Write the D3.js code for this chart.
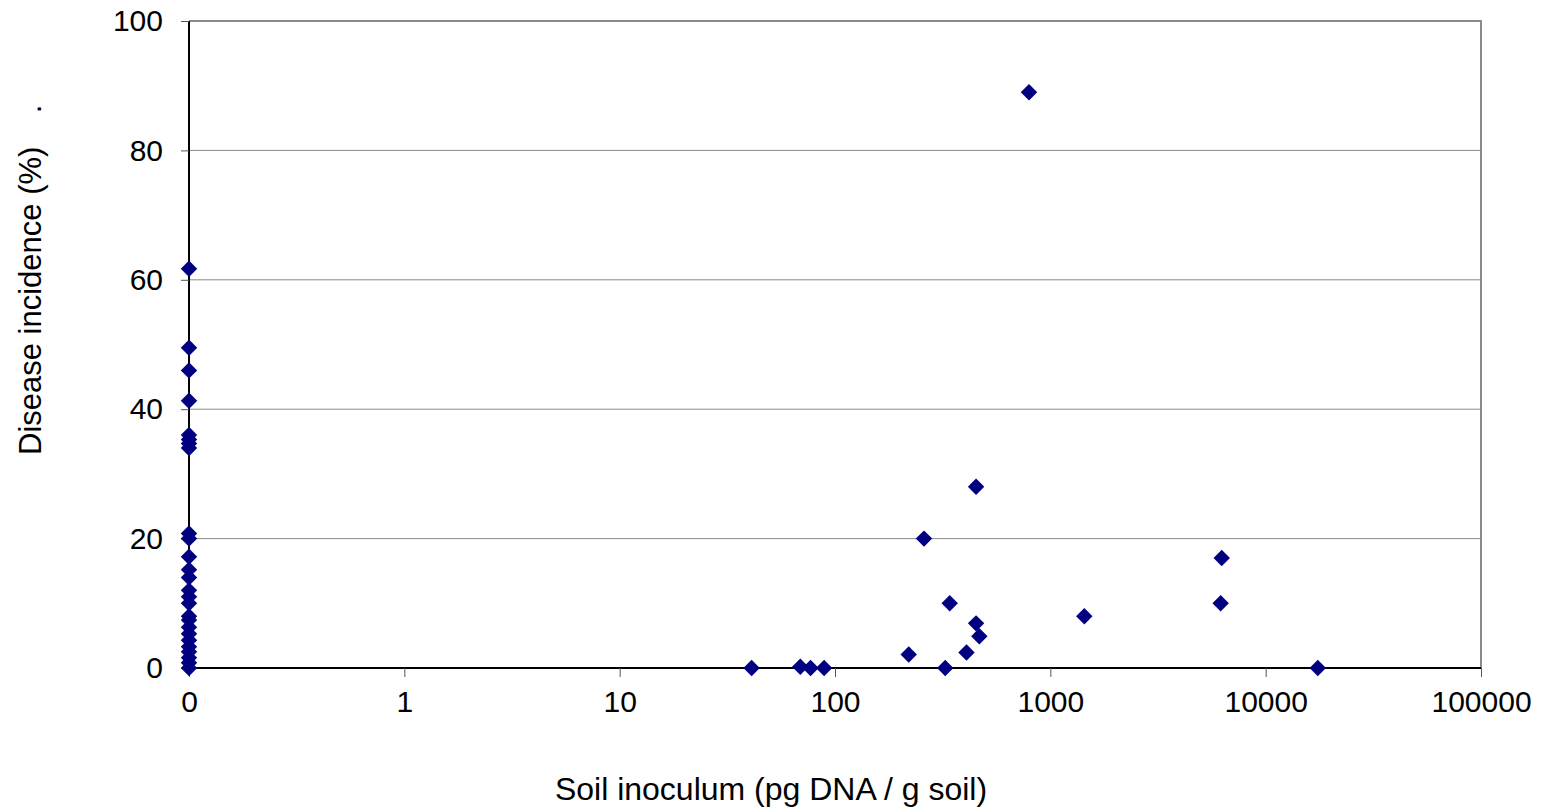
<!DOCTYPE html>
<html>
<head>
  <meta charset="utf-8">
  <title>Disease incidence vs soil inoculum</title>
  <style>
    body { margin: 0; background: #fff; }
    text { font-family: "Liberation Sans", Arial, sans-serif; fill: #000; }
  </style>
</head>
<body>
  <script src="https://d3js.org/d3.v7.min.js"></script>
  <script type="text/javascript">
  // control plots (no inoculum detected), drawn on the "0" position of the log axis
  var zeroInoculum = [0.1];
  var zeroIncidence = [61.7, 49.5, 46, 41.3, 36, 35.3, 34.7, 34, 20.8, 20, 17.2, 15.2, 14, 12, 11, 10,
                       8, 7.4, 6.3, 5.3, 4.3, 3.3, 2.5, 1.6, 0.8, 0];

  // plots with measured inoculum
  var inoculum  = [41, 69, 77, 89, 220, 259, 325, 341, 408, 452, 452, 468, 796, 1438, 6180, 6250, 17460];
  var incidence = [0, 0.2, 0, 0, 2.1, 20, 0, 10, 2.4, 28, 6.9, 4.9, 89, 8, 10, 17, 0];

  var xTicks = [0.1, 1, 10, 100, 1000, 10000, 100000];
  var xTickLabels = ["0", "1", "10", "100", "1000", "10000", "100000"];
  var yTicks = [0, 20, 40, 60, 80, 100];

  var points = [];
  zeroIncidence.forEach(function(v){ points.push({x: zeroInoculum[0], y: v}); });
  inoculum.forEach(function(v, i){ points.push({x: v, y: incidence[i]}); });

  var W = 1541, H = 812;
  var margin = {top: 21, right: 60, bottom: 144, left: 189},
      width  = W - margin.left - margin.right,
      height = H - margin.top - margin.bottom;

  var svg = d3.select("body").append("svg")
      .attr("width", W)
      .attr("height", H);

  var chart = svg.append("g")
      .attr("transform", "translate(" + margin.left + "," + margin.top + ")");

  var x = d3.scaleLog().domain([0.1, 100000]).range([0, width]);
  var y = d3.scaleLinear().domain([0, 100]).range([height, 0]);

  // gridlines
  chart.selectAll(".grid")
      .data(yTicks.filter(function(d){ return d > 0; }))
      .enter().append("line")
      .attr("x1", 0).attr("x2", width)
      .attr("y1", function(d){ return y(d); })
      .attr("y2", function(d){ return y(d); })
      .attr("stroke", "#8a8a8a")
      .attr("stroke-width", function(d){ return d === 100 ? 2 : 1; });

  // right border of plot area
  chart.append("line")
      .attr("x1", width).attr("x2", width)
      .attr("y1", y(100) - 1).attr("y2", height)
      .attr("stroke", "#8a8a8a")
      .attr("stroke-width", 2);

  // x axis
  var xAxis = chart.append("g")
      .attr("transform", "translate(0," + height + ")")
      .call(d3.axisBottom(x)
        .tickValues(xTicks)
        .tickFormat(function(d, i){ return xTickLabels[i]; })
        .tickSize(9)
        .tickPadding(14));
  xAxis.select(".domain").attr("stroke", "#000").attr("stroke-width", 2).attr("d", "M0,0H" + width);
  xAxis.selectAll(".tick line").attr("stroke", "#555");
  xAxis.selectAll("text").attr("font-size", "30px").attr("font-family", "Liberation Sans, Arial, sans-serif");

  // y axis
  var yAxis = chart.append("g")
      .call(d3.axisLeft(y)
        .tickValues(yTicks)
        .tickSize(8)
        .tickPadding(18));
  yAxis.select(".domain").attr("stroke", "#000").attr("stroke-width", 2).attr("d", "M0," + height + "V0");
  yAxis.selectAll(".tick line").attr("stroke", "#555");
  yAxis.selectAll("text").attr("font-size", "30px").attr("font-family", "Liberation Sans, Arial, sans-serif");

  // points
  chart.selectAll(".pt")
      .data(points)
      .enter().append("path")
      .attr("d", d3.symbol().type(d3.symbolSquare).size(135))
      .attr("transform", function(d){ return "translate(" + x(d.x) + "," + y(d.y) + ") rotate(45)"; })
      .attr("fill", "#000080");

  // axis titles
  svg.append("text")
      .attr("x", 771)
      .attr("y", 800)
      .attr("text-anchor", "middle")
      .attr("font-size", "32px")
      .text("Soil inoculum (pg DNA / g soil)");

  svg.append("text")
      .attr("transform", "translate(41,455) rotate(-90)")
      .attr("text-anchor", "start")
      .attr("font-size", "31px")
      .text("Disease incidence (%)");

  svg.append("text")
      .attr("transform", "translate(41,109) rotate(-90)")
      .attr("text-anchor", "middle")
      .attr("font-size", "31px")
      .text(".");
  </script>
</body>
</html>
